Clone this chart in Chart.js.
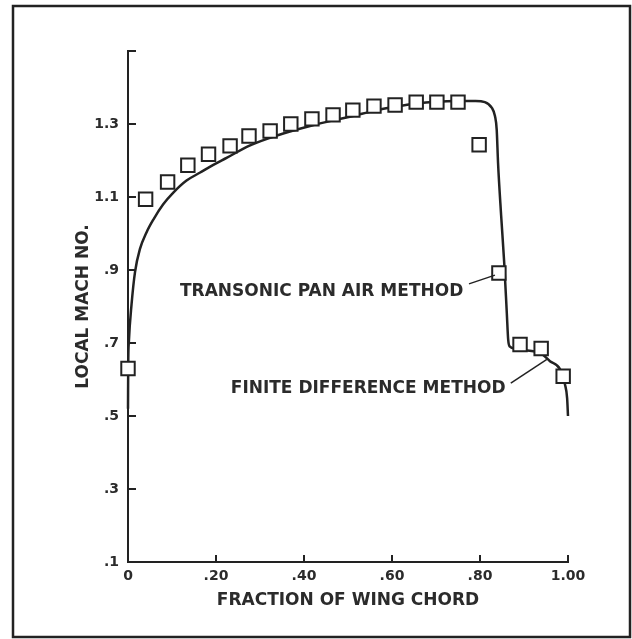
<!DOCTYPE html>
<html>
<head>
<meta charset="utf-8">
<script src="https://cdn.jsdelivr.net/npm/chart.js@4/dist/chart.umd.min.js"></script>
<style>
  html, body { margin: 0; padding: 0; background: #fff; }
  canvas { display: block; }
</style>
</head>
<body>
<canvas id="c" width="632" height="639"></canvas>
<script>
// ---- Data ----
const chordTicks = [0, 0.2, 0.4, 0.6, 0.8, 1.0];
const chordTickLabels = ['0', '.20', '.40', '.60', '.80', '1.00'];
const machTicks = [0.1, 0.3, 0.5, 0.7, 0.9, 1.1, 1.3, 1.5];
const machTickLabels = ['.1', '.3', '.5', '.7', '.9', '1.1', '1.3', ''];

const panAirChord = [0, 0.040, 0.090, 0.136, 0.183, 0.232, 0.275, 0.323, 0.370, 0.418, 0.466, 0.511, 0.559, 0.607, 0.655, 0.702, 0.750, 0.798, 0.843, 0.891, 0.939, 0.989];
const panAirMach  = [0.63, 1.094, 1.141, 1.187, 1.217, 1.240, 1.267, 1.281, 1.300, 1.314, 1.325, 1.338, 1.349, 1.352, 1.360, 1.360, 1.360, 1.243, 0.892, 0.696, 0.685, 0.609];

const fdChord = [0, 0.0005, 0.002, 0.008, 0.016, 0.027, 0.042, 0.058, 0.080, 0.103, 0.133, 0.164, 0.194, 0.224, 0.275, 0.323, 0.370, 0.418, 0.466, 0.511, 0.559, 0.607, 0.655, 0.700, 0.750, 0.790, 0.811, 0.827, 0.834, 0.838, 0.841, 0.848, 0.855, 0.861, 0.864, 0.868, 0.880, 0.891, 0.939, 0.959, 0.982, 0.993, 0.998, 1.0];
const fdMach  = [0.52, 0.64, 0.704, 0.805, 0.895, 0.957, 1.003, 1.039, 1.080, 1.112, 1.145, 1.167, 1.188, 1.207, 1.240, 1.262, 1.280, 1.296, 1.310, 1.322, 1.336, 1.347, 1.356, 1.361, 1.363, 1.363, 1.360, 1.344, 1.322, 1.284, 1.194, 1.05, 0.92, 0.78, 0.71, 0.69, 0.685, 0.682, 0.671, 0.65, 0.628, 0.587, 0.549, 0.50];

// Callout labels (text, anchor in data coords, leader line in data coords)
const callouts = [
  { text: 'TRANSONIC PAN AIR METHOD', x: 0.762, y: 0.84, from: [0.775, 0.862], to: [0.834, 0.886] },
  { text: 'FINITE DIFFERENCE METHOD', x: 0.858, y: 0.576, from: [0.870, 0.590], to: [0.952, 0.655] }
];

// ---- Styling ----
const INK = '#222';
const TEXT = '#2b2b2b';
const FONT = 'DejaVu Sans';

const toPts = (xs, ys) => xs.map((x, i) => ({ x: x, y: ys[i] }));

const decor = {
  id: 'decor',
  beforeDraw(chart) {
    const ctx = chart.ctx;
    ctx.save();
    ctx.fillStyle = '#fff';
    ctx.fillRect(0, 0, chart.width, chart.height);
    ctx.restore();
  },
  afterDraw(chart) {
    const ctx = chart.ctx;
    const xs = chart.scales.x, ys = chart.scales.y;
    const area = chart.chartArea;
    ctx.save();
    // outer frame
    ctx.strokeStyle = INK;
    ctx.lineWidth = 2.5;
    ctx.strokeRect(13, 6, 617, 631);
    // inward tick marks
    ctx.lineWidth = 2;
    ctx.beginPath();
    ys.ticks.forEach(t => {
      const py = ys.getPixelForValue(t.value);
      ctx.moveTo(area.left, py);
      ctx.lineTo(area.left + 8, py);
    });
    xs.ticks.forEach(t => {
      const px = xs.getPixelForValue(t.value);
      ctx.moveTo(px, area.bottom);
      ctx.lineTo(px, area.bottom - 7);
    });
    ctx.stroke();
    // callouts
    ctx.fillStyle = TEXT;
    ctx.font = 'bold 17px "' + FONT + '"';
    ctx.textAlign = 'right';
    ctx.textBaseline = 'middle';
    ctx.lineWidth = 1.5;
    callouts.forEach(c => {
      ctx.fillText(c.text, xs.getPixelForValue(c.x), ys.getPixelForValue(c.y));
      ctx.beginPath();
      ctx.moveTo(xs.getPixelForValue(c.from[0]), ys.getPixelForValue(c.from[1]));
      ctx.lineTo(xs.getPixelForValue(c.to[0]), ys.getPixelForValue(c.to[1]));
      ctx.stroke();
    });
    ctx.restore();
  }
};

new Chart(document.getElementById('c'), {
  type: 'scatter',
  data: {
    datasets: [
      {
        label: 'Transonic Pan Air Method',
        data: toPts(panAirChord, panAirMach),
        showLine: false,
        pointStyle: 'rect',
        pointRadius: 9.5,
        pointBorderWidth: 2,
        pointBorderColor: INK,
        pointBackgroundColor: '#fff',
        clip: false,
        order: 0
      },
      {
        label: 'Finite Difference Method',
        data: toPts(fdChord, fdMach),
        showLine: true,
        borderColor: INK,
        borderWidth: 2.5,
        pointRadius: 0,
        cubicInterpolationMode: 'monotone',
        fill: false,
        clip: false,
        order: 1
      }
    ]
  },
  options: {
    responsive: false,
    animation: false,
    layout: { padding: { top: 51, right: 64, bottom: 0, left: 0 } },
    plugins: { legend: { display: false }, tooltip: { enabled: false } },
    scales: {
      x: {
        type: 'linear',
        min: 0, max: 1.0,
        afterFit(s) { s.height = 77; },
        afterBuildTicks(s) { s.ticks = chordTicks.map(v => ({ value: v })); },
        grid: { display: false, drawTicks: false },
        border: { display: true, color: INK, width: 2 },
        ticks: {
          autoSkip: false, maxRotation: 0, padding: 6,
          color: TEXT, font: { family: FONT, size: 14, weight: 'bold' },
          callback: (v, i) => chordTickLabels[i]
        },
        title: {
          display: true, text: 'FRACTION OF WING CHORD', color: TEXT,
          font: { family: FONT, size: 17, weight: 'bold' },
          padding: { top: 0, bottom: 28 }
        }
      },
      y: {
        type: 'linear',
        min: 0.1, max: 1.5,
        afterFit(s) { s.width = 128; },
        afterBuildTicks(s) { s.ticks = machTicks.map(v => ({ value: v })); },
        grid: { display: false, drawTicks: false },
        border: { display: true, color: INK, width: 2 },
        ticks: {
          autoSkip: false, padding: 9,
          color: TEXT, font: { family: FONT, size: 14, weight: 'bold' },
          callback: (v, i) => machTickLabels[i]
        },
        title: {
          display: true, text: 'LOCAL MACH NO.', color: TEXT,
          font: { family: FONT, size: 17, weight: 'bold' },
          padding: { top: 73, bottom: 0 }
        }
      }
    }
  },
  plugins: [decor]
});
</script>
</body>
</html>
